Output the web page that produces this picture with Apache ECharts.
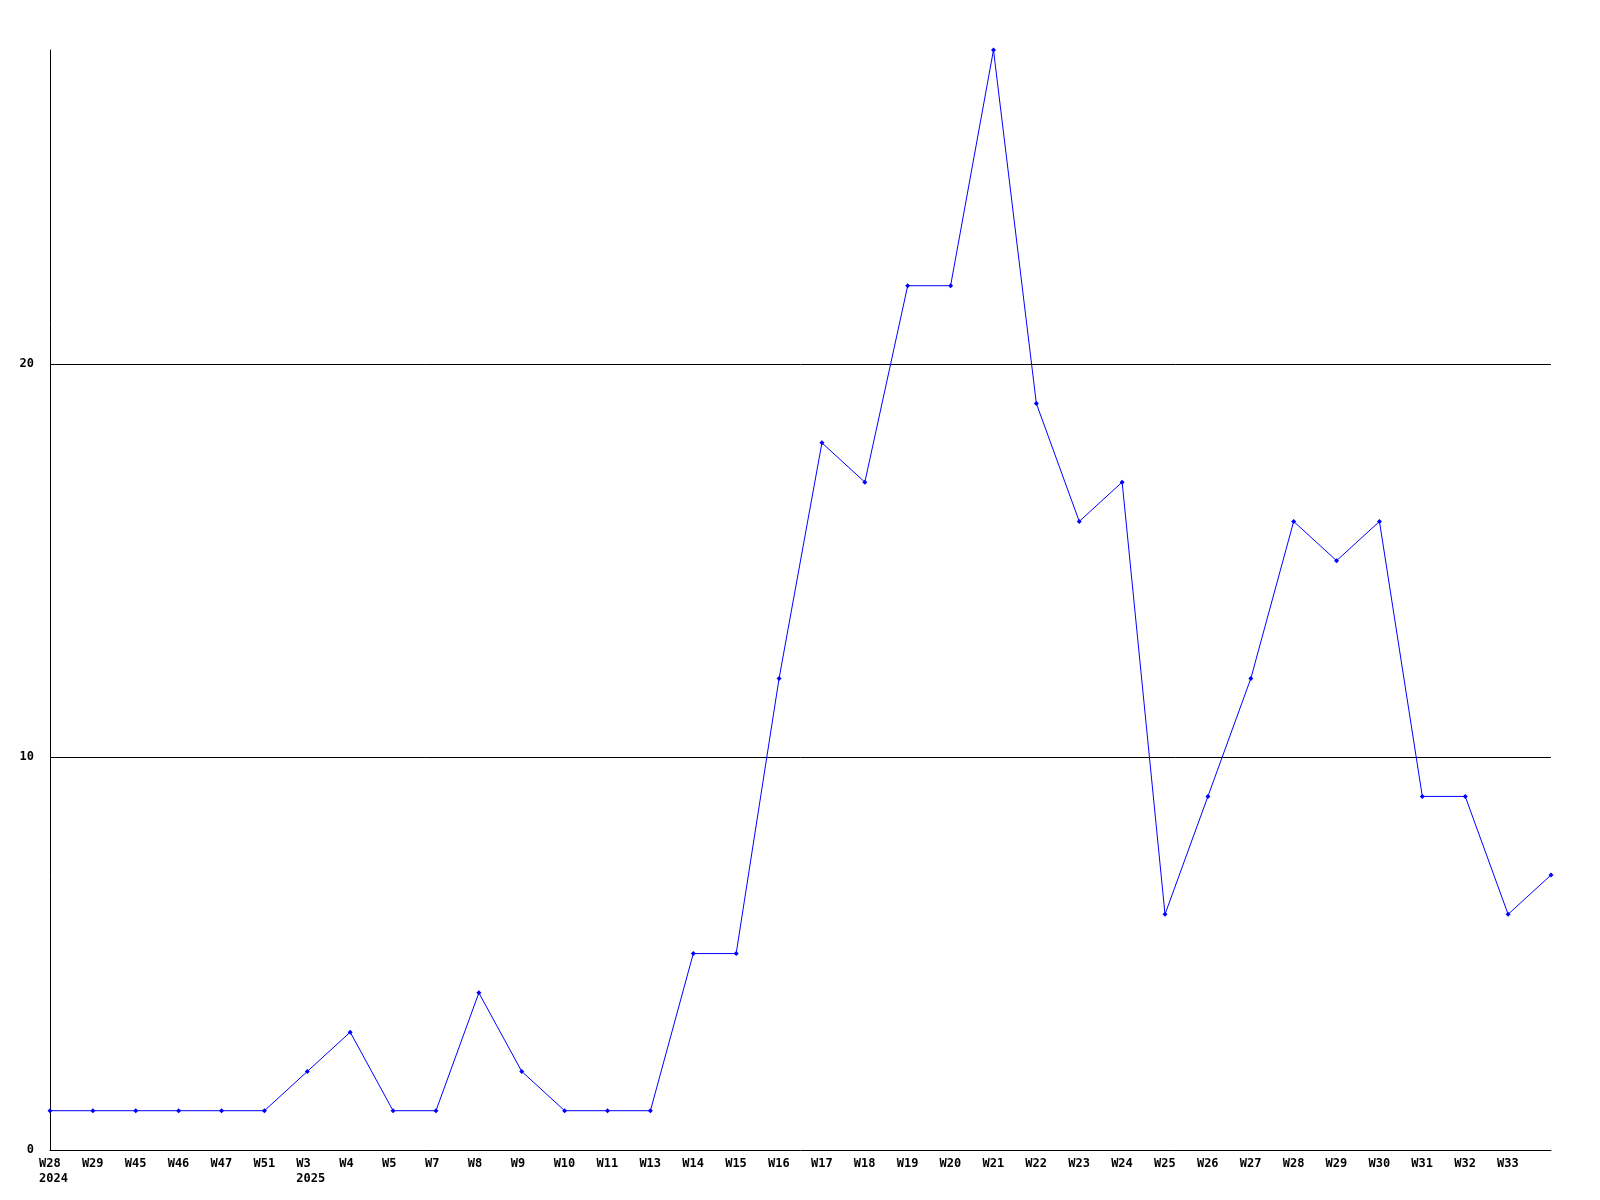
<!DOCTYPE html>
<html><head><meta charset="utf-8">
<script src="https://cdn.jsdelivr.net/npm/echarts@6/dist/echarts.min.js"></script>
<style>html,body{margin:0;padding:0;background:#fff}#c{width:1600px;height:1200px}</style>
</head><body><div id="c"></div>
<script>
const categories = ['W28\n2024','W29','W45','W46','W47','W51','W3\n2025','W4','W5','W7','W8','W9','W10','W11','W13','W14','W15','W16','W17','W18','W19','W20','W21','W22','W23','W24','W25','W26','W27','W28','W29','W30','W31','W32','W33','W34'];
const values = [1,1,1,1,1,1,2,3,1,1,4,2,1,1,1,5,5,12,18,17,22,22,28,19,16,17,6,9,12,16,15,16,9,9,6,7];
const yTicks = [0,10,20];

const chart = echarts.init(document.getElementById('c'), null, {renderer:'canvas'});
const font = {fontFamily:'DejaVu Sans Mono', fontWeight:'bold', fontSize:12, color:'#000'};
chart.setOption({
  animation:false,
  backgroundColor:'#fff',
  grid:{left:50,right:49,top:50,bottom:50,containLabel:false},
  xAxis:{
    type:'category', boundaryGap:false, data:categories,
    axisLine:{lineStyle:{color:'#000',width:1}},
    axisTick:{show:false},
    axisLabel:Object.assign({}, font, {interval:0, margin:6, lineHeight:15, align:'left', padding:[0,0,0,-11],
      formatter:(v,i)=> i===categories.length-1 ? '' : v}),
    splitLine:{show:false}
  },
  yAxis:{
    type:'value', min:0, max:28, interval:10,
    axisLine:{show:true,lineStyle:{color:'#000',width:1}},
    axisTick:{show:false},
    axisLabel:Object.assign({}, font, {margin:16, showMaxLabel:false,
      formatter:(v)=> yTicks.includes(v) ? String(v) : ''}),
    splitLine:{show:true, showMinLine:false, showMaxLine:false, lineStyle:{color:'#000',width:1}}
  },
  series:[{
    type:'line', data:values,
    lineStyle:{color:'#0000ff',width:1},
    itemStyle:{color:'#0000ff'},
    symbol:'diamond', symbolSize:5, showSymbol:true
  }]
});
</script></body></html>
